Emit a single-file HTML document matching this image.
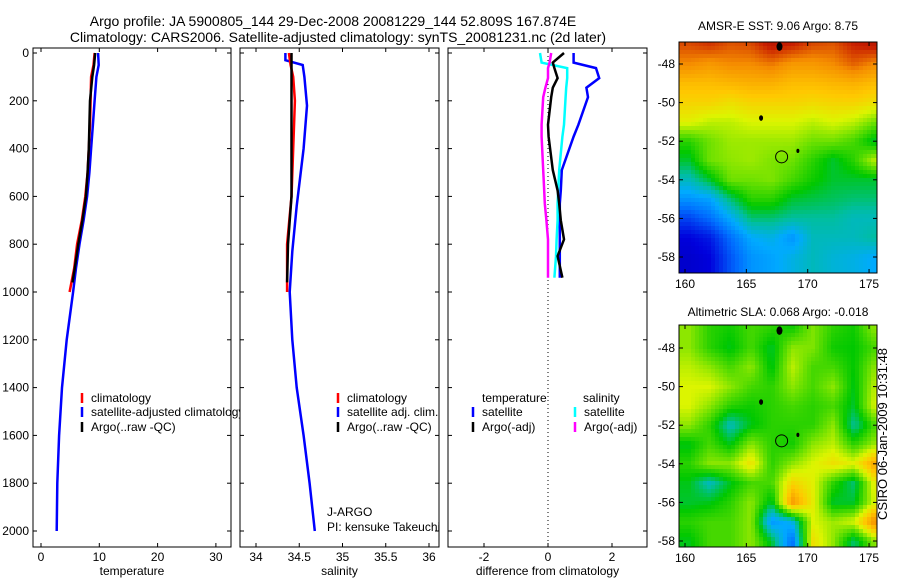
<!DOCTYPE html>
<html><head><meta charset="utf-8"><style>
body{margin:0;background:#fff;}
svg{display:block;font-family:"Liberation Sans",sans-serif;}
</style></head><body>
<svg id="fig" width="900" height="580" viewBox="0 0 900 580">
<text x="333" y="26" font-size="14" text-anchor="middle">Argo profile: JA 5900805_144 29-Dec-2008 20081229_144 52.809S 167.874E</text>
<text x="338" y="42" font-size="14" text-anchor="middle">Climatology: CARS2006. Satellite-adjusted climatology: synTS_20081231.nc (2d later)</text>
<text x="887" y="434" font-size="13" text-anchor="middle" transform="rotate(-90 887 434)">CSIRO 06-Jan-2009 10:31:48</text>
</svg>
<script>
// ---- data ----
const tempDepthClim=[0,50,100,200,300,400,500,600,700,800,900,1000];
const tempClim=[9.2,9.0,8.6,8.5,8.4,8.2,8.0,7.6,7.0,6.2,5.7,4.9];
const tempDepthArgo=[0,50,100,200,300,400,500,600,700,800,900,960];
const tempArgo=[9.3,9.1,8.8,8.4,8.3,8.2,8.0,7.7,7.1,6.4,5.8,5.4];
const tempDepthSat=[0,50,100,200,300,400,500,600,700,800,900,1000,1200,1400,1600,1800,2000];
const tempSat=[9.8,9.9,9.5,9.2,8.9,8.6,8.3,7.9,7.3,6.6,6.0,5.5,4.4,3.6,3.1,2.8,2.7];
const salDepthClim=[0,50,100,200,400,600,800,1000];
const salClim=[34.38,34.4,34.43,34.45,34.43,34.41,34.36,34.36];
const salDepthArgo=[0,50,100,200,400,600,800,960];
const salArgo=[34.41,34.41,34.41,34.41,34.41,34.41,34.37,34.36];
const salDepthSat=[0,30,50,100,220,400,640,830,1000,1200,1400,1600,1800,2000];
const salSat=[34.34,34.34,34.54,34.56,34.59,34.55,34.47,34.42,34.39,34.42,34.47,34.55,34.62,34.68];
const diffDepth=[0,40,63,105,145,185,300,350,490,575,630,700,780,850,940];
const diffTempSat=[0.8,0.8,1.5,1.6,1.2,1.25,0.95,0.8,0.43,0.4,0.37,0.37,0.37,0.37,0.37];
const diffTempArgo=[0.5,0.15,0.2,0.3,0.15,0.1,0,0.02,0.15,0.3,0.35,0.4,0.5,0.3,0.45];
const diffSalSat=[-0.25,-0.2,0.6,0.6,0.57,0.55,0.5,0.45,0.35,0.32,0.3,0.3,0.27,0.25,0.2];
const diffSalArgo=[0.1,0.05,0,0,-0.08,-0.15,-0.2,-0.2,-0.15,-0.12,-0.1,-0.05,0,0,0];
const depthTicks=[0,200,400,600,800,1000,1200,1400,1600,1800,2000];
const tempTicks=[0,10,20,30];
const salTicks=[34,34.5,35,35.5,36];
const salTickLabels=["34","34.5","35","35.5","36"];
const diffTicks=[-2,0,2];
const latTicks=[48,50,52,54,56,58];
const lonTicks=[160,165,170,175];
const gridLats=[47,48,49,50,51,52,53,54,55,56,57,58];
const sstGrid=[
[.86,.88,.85,.86,.92,.9,.86,.85,.9,.92],
[.8,.78,.8,.8,.82,.78,.78,.8,.84,.8],
[.72,.72,.73,.74,.74,.72,.72,.73,.74,.72],
[.68,.68,.66,.68,.68,.68,.67,.68,.68,.66],
[.63,.6,.6,.62,.62,.62,.6,.62,.6,.55],
[.5,.55,.58,.58,.58,.58,.55,.55,.52,.45],
[.45,.55,.57,.58,.56,.55,.5,.45,.5,.6],
[.38,.45,.55,.55,.56,.52,.48,.45,.45,.45],
[.3,.32,.42,.5,.5,.45,.44,.43,.42,.42],
[.2,.25,.33,.42,.42,.4,.4,.4,.38,.38],
[.12,.15,.25,.33,.35,.3,.38,.38,.38,.4],
[.1,.12,.22,.3,.32,.35,.38,.36,.35,.33]];
const slaGrid=[
[.57,.5,.48,.52,.5,.48,.56,.5,.48,.57],
[.57,.5,.46,.52,.45,.57,.56,.48,.47,.52],
[.6,.57,.52,.57,.46,.6,.52,.52,.47,.57],
[.62,.62,.57,.52,.5,.57,.52,.57,.46,.6],
[.62,.57,.5,.48,.5,.52,.5,.52,.45,.62],
[.57,.5,.38,.46,.5,.5,.5,.57,.4,.52],
[.46,.52,.46,.57,.5,.48,.57,.6,.5,.58],
[.5,.57,.57,.66,.5,.57,.62,.66,.63,.76],
[.46,.38,.46,.52,.52,.68,.63,.5,.42,.64],
[.45,.46,.5,.57,.45,.78,.64,.45,.45,.62],
[.5,.52,.52,.57,.3,.35,.62,.58,.62,.8],
[.46,.52,.52,.57,.45,.25,.66,.57,.42,.57]];
const argoLon=167.874, argoLat=52.809;

const NS="http://www.w3.org/2000/svg";
const svg=document.getElementById('fig');
function mk(tag,attrs,parent){const e=document.createElementNS(NS,tag);for(const k in attrs)e.setAttribute(k,attrs[k]);(parent||svg).appendChild(e);return e;}
const yD=d=>53+d*0.239;
const TOP=48,BOT=547;

function panel(name,x0,x1,xs,ticks,labels,xlabel,showY){
  const g=mk('g',{});
  
  
  const bg=mk('rect',{x:x0,y:TOP,width:x1-x0,height:BOT-TOP,fill:'#fff',stroke:'none'},g);
  
  
  depthTicks.forEach(d=>{const y=yD(d);
    mk('line',{x1:x0,x2:x0+4,y1:y,y2:y,stroke:'#000'},g);
    mk('line',{x1:x1-4,x2:x1,y1:y,y2:y,stroke:'#000'},g);
    if(showY){const t=mk('text',{x:x0-4,y:y+4,'font-size':12,'text-anchor':'end'},g);t.textContent=d;
      
      }
  });
  ticks.forEach((v,i)=>{const x=xs(v);
    mk('line',{x1:x,x2:x,y1:TOP,y2:TOP+4,stroke:'#000'},g);
    mk('line',{x1:x,x2:x,y1:BOT-4,y2:BOT,stroke:'#000'},g);
    const t=mk('text',{x:x,y:BOT+14,'font-size':12,'text-anchor':'middle'},g);t.textContent=labels[i];
    
    
  });
  const xl=mk('text',{x:(x0+x1)/2,y:BOT+28,'font-size':12,'text-anchor':'middle'},g);xl.textContent=xlabel;
  
  
  return g;
}
function line(g,xs,vals,depths,color,name){
  const pts=vals.map((v,i)=>xs(v).toFixed(1)+','+yD(depths[i]).toFixed(1)).join(' ');
  const p=mk('polyline',{points:pts,fill:'none',stroke:color,'stroke-width':2.5},g);
  
  
}
function frame(g,x0,x1){mk('rect',{x:x0,y:TOP,width:x1-x0,height:BOT-TOP,fill:'none',stroke:'#000'},g);}
function legend(g,x,y,color,label,name){
  const l=mk('line',{x1:x,x2:x,y1:y-9,y2:y+1,stroke:color,'stroke-width':2.5},g);
  
  
  const t=mk('text',{x:x+9,y:y,'font-size':12},g);t.textContent=label;
  
  
}

const xT=v=>41+v*5.83;
const g1=panel('temperature-panel',33,231,xT,tempTicks,tempTicks.map(String),'temperature',true);
line(g1,xT,tempSat,tempDepthSat,'#0000ff','temp-satellite-line');
line(g1,xT,tempClim,tempDepthClim,'#ff0000','temp-climatology-line');
line(g1,xT,tempArgo,tempDepthArgo,'#000','temp-argo-line');
legend(g1,82,402,'#ff0000','climatology','legend-climatology');
legend(g1,82,416,'#0000ff','satellite-adjusted climatology','legend-satellite');
legend(g1,82,431,'#000','Argo(..raw -QC)','legend-argo');
frame(g1,33,231);

const xS=v=>256+(v-34)*86.5;
const g2=panel('salinity-panel',240,439,xS,salTicks,salTickLabels,'salinity',false);
line(g2,xS,salSat,salDepthSat,'#0000ff','sal-satellite-line');
line(g2,xS,salClim,salDepthClim,'#ff0000','sal-climatology-line');
line(g2,xS,salArgo,salDepthArgo,'#000','sal-argo-line');
legend(g2,338,402,'#ff0000','climatology','legend2-climatology');
legend(g2,338,416,'#0000ff','satellite adj. clim.','legend2-satellite');
legend(g2,338,431,'#000','Argo(..raw -QC)','legend2-argo');
[['J-ARGO',516],['PI: kensuke Takeuchi',531]].forEach(([s,y])=>{const t=mk('text',{x:327,y:y,'font-size':12},g2);t.textContent=s;
  
  });
frame(g2,240,439);

const xDf=v=>548+v*32;
const g3=panel('difference-panel',448,647,xDf,diffTicks,diffTicks.map(String),'difference from climatology',false);
const zl=mk('line',{x1:xDf(0),x2:xDf(0),y1:TOP,y2:BOT,stroke:'#000','stroke-dasharray':'1,3'},g3);


line(g3,xDf,diffTempSat,diffDepth,'#0000ff','diff-temp-satellite-line');
line(g3,xDf,diffSalSat,diffDepth,'#00ffff','diff-sal-satellite-line');
line(g3,xDf,diffTempArgo,diffDepth,'#000','diff-temp-argo-line');
line(g3,xDf,diffSalArgo,diffDepth,'#ff00ff','diff-sal-argo-line');
[['temperature',482],['salinity',583]].forEach(([s,x])=>{const t=mk('text',{x:x,y:402,'font-size':12},g3);t.textContent=s;
  
  });
legend(g3,473,416,'#0000ff','satellite','legend3-temp-satellite');
legend(g3,473,431,'#000','Argo(-adj)','legend3-temp-argo');
legend(g3,575,416,'#00ffff','satellite','legend3-sal-satellite');
legend(g3,575,431,'#ff00ff','Argo(-adj)','legend3-sal-argo');
frame(g3,448,647);

const stops=[[0,[0,0,128]],[0.12,[0,0,220]],[0.25,[0,110,255]],[0.33,[0,170,255]],[0.4,[0,190,160]],[0.47,[0,200,0]],[0.55,[110,225,0]],[0.62,[220,245,0]],[0.7,[255,200,0]],[0.8,[245,140,0]],[0.9,[200,30,0]],[1,[140,0,0]]];
function cmap(v){for(let i=1;i<stops.length;i++){if(v<=stops[i][0]){const a=stops[i-1],b=stops[i],t=(v-a[0])/(b[0]-a[0]);
  const c=a[1].map((x,k)=>Math.round(x+(b[1][k]-x)*t));return `rgb(${c})`;}}return 'rgb(140,0,0)';}
function sample(grid,r,c){ // bilinear interpolation in grid-index space
  const R=grid.length-1,C=grid[0].length-1;
  r=Math.max(0,Math.min(R,r));c=Math.max(0,Math.min(C,c));
  const r0=Math.floor(r),c0=Math.floor(c),r1=Math.min(R,r0+1),c1=Math.min(C,c0+1),fr=r-r0,fc=c-c0;
  return (grid[r0][c0]*(1-fc)+grid[r0][c1]*fc)*(1-fr)+(grid[r1][c0]*(1-fc)+grid[r1][c1]*fc)*fr;
}
function map(name,top,bot,lat48y,lat58y,grid,title,titleY){
  const g=mk('g',{});
  
  
  const L=679,R=877;
  const xL=lon=>685+(lon-160)*12.27;
  const yL=lat=>lat48y+(lat-48)*(lat58y-lat48y)/10;
  const lon0=159.5,dl=1.68;
  const cells=mk('g',{},g);
  
  
  const step=4;
  for(let y=top;y<bot;y+=step){for(let x=L;x<R;x+=step){
    const lon=160+(x+step/2-685)/12.27, lat=48+(y+step/2-lat48y)*10/(lat58y-lat48y);
    const c=(lon-lon0)/dl-0.5, r=lat-gridLats[0];
    mk('rect',{x:x,y:y,width:Math.min(step,R-x)+0.3,height:Math.min(step,bot-y)+0.3,fill:cmap(sample(grid,r,c))},cells);
  }}
  const circ=mk('circle',{cx:xL(argoLon),cy:yL(argoLat),r:6,fill:'none',stroke:'#000'},g);
  
  
  [[167.7,47.1,3],[166.2,50.8,2],[169.2,52.5,1.5]].forEach(([lo,la,r])=>mk('ellipse',{cx:xL(lo),cy:yL(la),rx:r,ry:r*1.4,fill:'#000'},g));
  mk('rect',{x:L,y:top,width:R-L,height:bot-top,fill:'none',stroke:'#000'},g);
  latTicks.forEach(la=>{const y=yL(la);
    mk('line',{x1:L,x2:L+4,y1:y,y2:y,stroke:'#000'},g);mk('line',{x1:R-4,x2:R,y1:y,y2:y,stroke:'#000'},g);
    const t=mk('text',{x:L-4,y:y+4,'font-size':12,'text-anchor':'end'},g);t.textContent='-'+la;
    
    });
  lonTicks.forEach(lo=>{const x=xL(lo);
    mk('line',{x1:x,x2:x,y1:top,y2:top+4,stroke:'#000'},g);mk('line',{x1:x,x2:x,y1:bot-4,y2:bot,stroke:'#000'},g);
    const t=mk('text',{x:x,y:bot+15,'font-size':12,'text-anchor':'middle'},g);t.textContent=lo;
    
    });
  const tt=mk('text',{x:778,y:titleY,'font-size':12,'text-anchor':'middle'},g);tt.textContent=title;
  
  
}
map('sst-map',42,273,64,257,sstGrid,'AMSR-E SST: 9.06  Argo: 8.75',30);
map('sla-map',325,547,348,541,slaGrid,'Altimetric SLA: 0.068  Argo: -0.018',316);
</script>
</body></html>
